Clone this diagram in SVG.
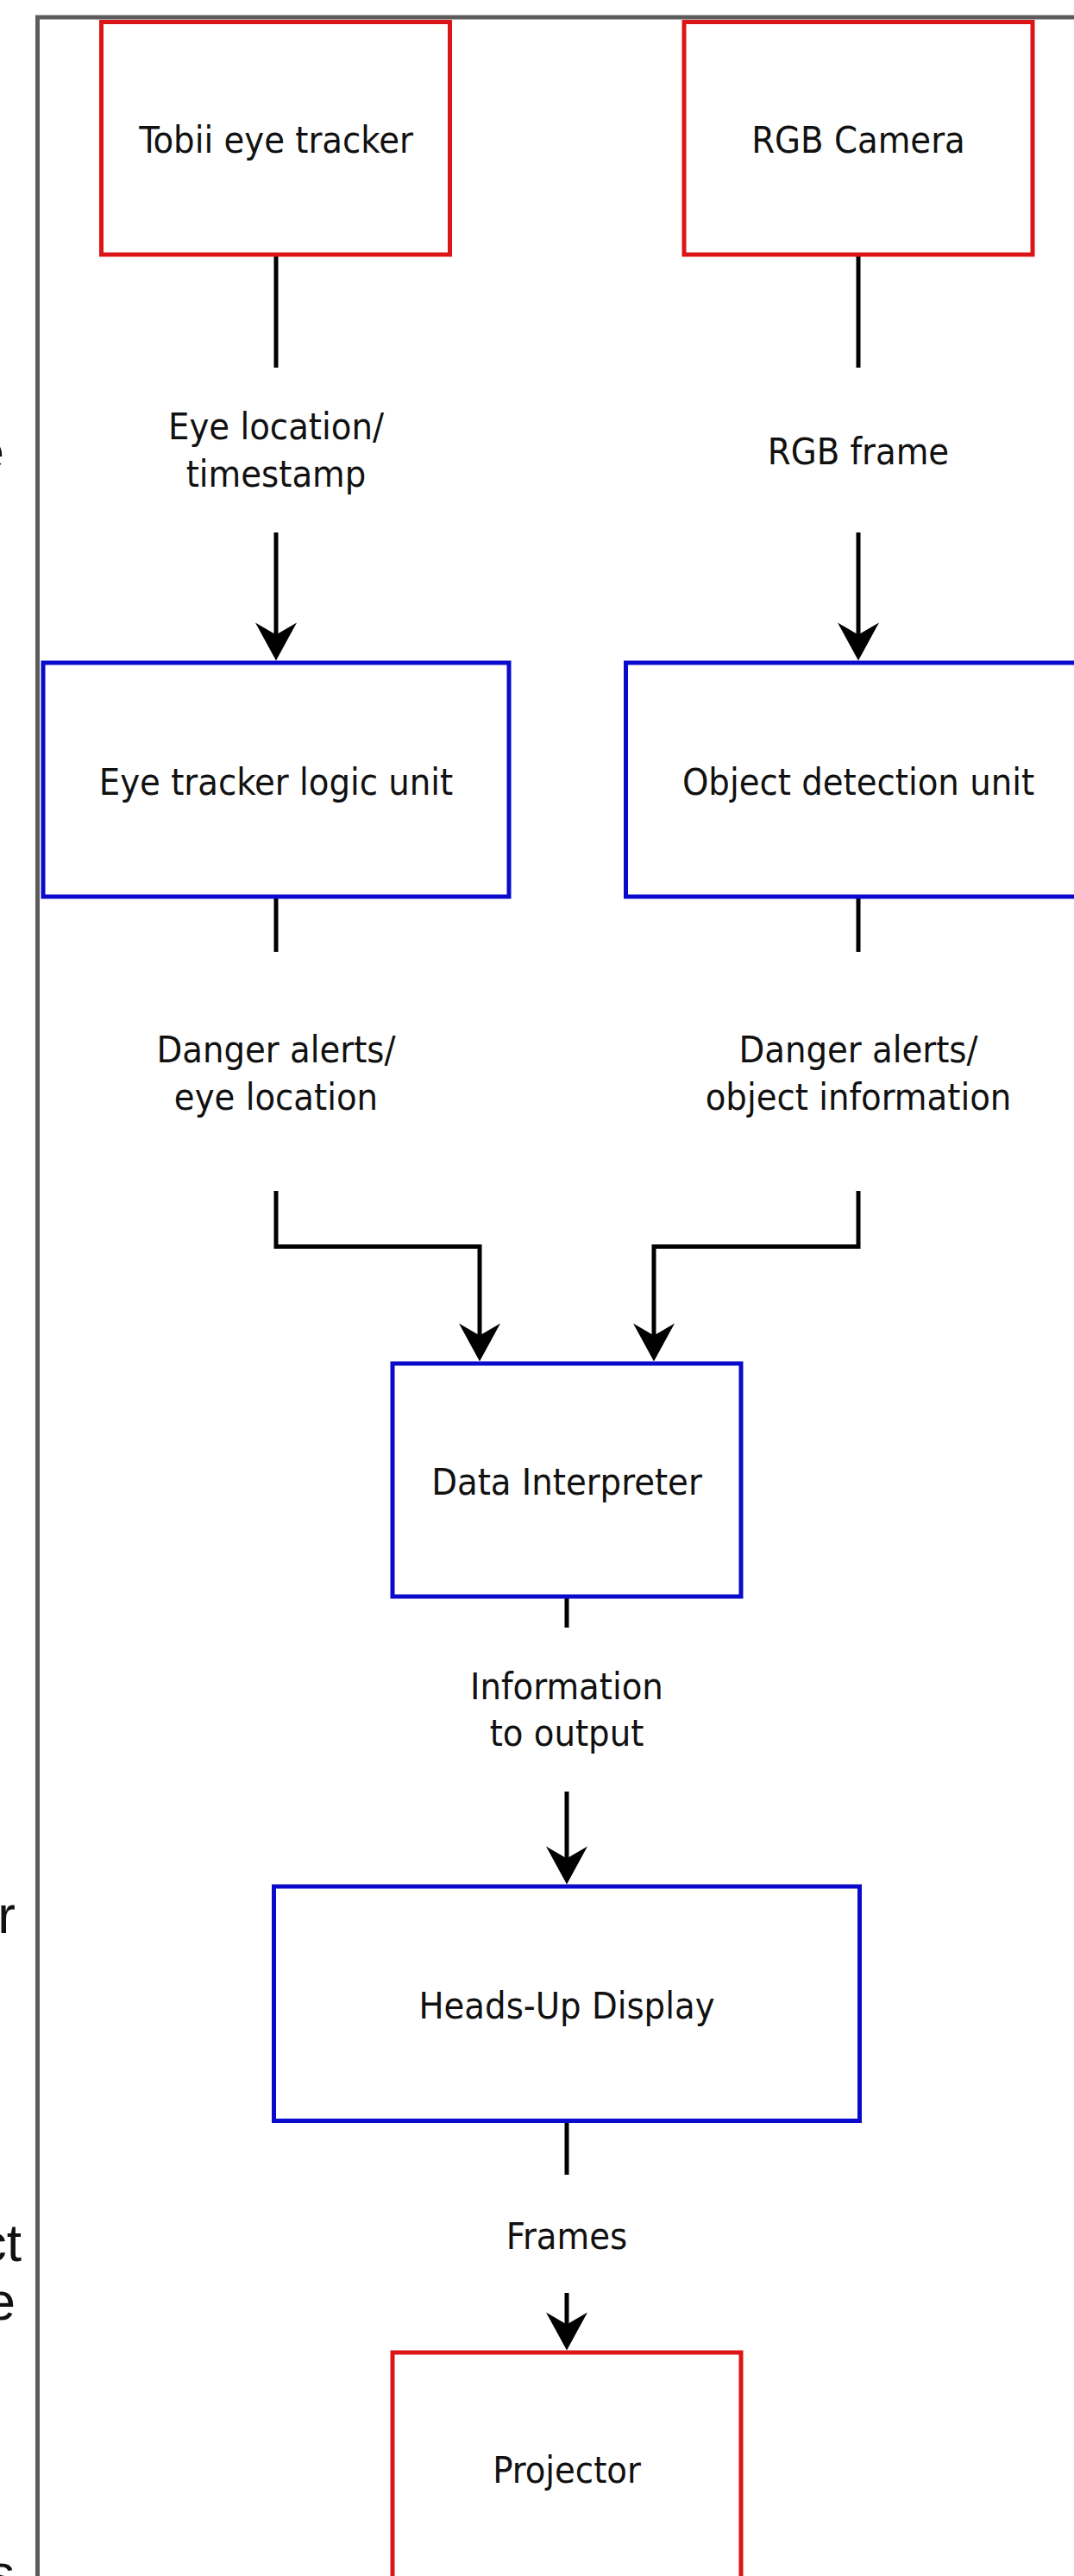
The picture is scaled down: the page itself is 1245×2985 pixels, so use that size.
<svg xmlns="http://www.w3.org/2000/svg" width="1245" height="2985" viewBox="0 0 1245 2985">
  <defs>
    <style>
      .frame { fill: none; stroke: #5c5c5c; stroke-width: 5; }
      .hw { fill: #ffffff; stroke: #dc1616; stroke-width: 5; }
      .sw { fill: #ffffff; stroke: #0a0acc; stroke-width: 5; }
      .lbl { font-family: "DejaVu Sans Condensed", "DejaVu Sans", sans-serif; font-stretch: condensed; font-size: 43px; fill: #111111; text-anchor: middle; }
      .wire { fill: none; stroke: #000000; stroke-width: 5; stroke-linejoin: miter; }
      .side { font-family: "Liberation Sans", Arial, sans-serif; font-size: 62px; fill: #111111; text-anchor: end; }
    </style>
    <!-- notched arrowhead; the wire stops 10px short of the tip -->
    <marker id="arrow" markerUnits="userSpaceOnUse" viewBox="-46 -25 48 50" markerWidth="48" markerHeight="50" refX="-10" refY="0" orient="auto" overflow="visible">
      <path d="M0,0 L-44,-24 L-30,0 L-44,24 Z" fill="#000000"/>
    </marker>
  </defs>

  <rect x="0" y="0" width="1245" height="2985" fill="#ffffff"/>

  <!-- clipped text running in from the neighbouring column -->
  <g id="margin-text">
    <text class="side" x="5" y="544">e</text>
    <text class="side" x="18" y="2240">r</text>
    <text class="side" x="25" y="2620">ct</text>
    <text class="side" x="18" y="2688">e</text>
    <text class="side" x="17" y="3003">s</text>
  </g>

  <!-- page frame: top and left rules -->
  <path class="frame" d="M43.5,2985 V20 H1245"/>

  <g id="connectors">
    <path class="wire" d="M320,295 V426"/>
    <path class="wire" d="M320,617 V755.5" marker-end="url(#arrow)"/>
    <path class="wire" d="M995,295 V426"/>
    <path class="wire" d="M995,617 V755.5" marker-end="url(#arrow)"/>

    <path class="wire" d="M320,1039 V1103"/>
    <path class="wire" d="M320,1380 V1444.5 H556 V1567.5" marker-end="url(#arrow)"/>
    <path class="wire" d="M995,1039 V1103"/>
    <path class="wire" d="M995,1380 V1444.5 H758 V1567.5" marker-end="url(#arrow)"/>

    <path class="wire" d="M657,1850 V1886"/>
    <path class="wire" d="M657,2076 V2173.5" marker-end="url(#arrow)"/>

    <path class="wire" d="M657,2457.5 V2520"/>
    <path class="wire" d="M657,2657 V2713.5" marker-end="url(#arrow)"/>

    <text class="lbl" x="320" y="509">Eye location/</text>
    <text class="lbl" x="320" y="564">timestamp</text>
    <text class="lbl" x="995" y="538">RGB frame</text>

    <text class="lbl" x="320" y="1231">Danger alerts/</text>
    <text class="lbl" x="320" y="1286">eye location</text>
    <text class="lbl" x="995" y="1231">Danger alerts/</text>
    <text class="lbl" x="995" y="1286">object information</text>

    <text class="lbl" x="657" y="1969">Information</text>
    <text class="lbl" x="657" y="2023">to output</text>

    <text class="lbl" x="657" y="2606">Frames</text>
  </g>

  <g id="tobii-eye-tracker">
    <rect class="hw" x="117.5" y="25.5" width="404" height="269.5"/>
    <text class="lbl" x="320" y="177">Tobii eye tracker</text>
  </g>

  <g id="rgb-camera">
    <rect class="hw" x="793" y="25.5" width="404" height="269.5"/>
    <text class="lbl" x="995" y="177">RGB Camera</text>
  </g>

  <g id="eye-tracker-logic-unit">
    <rect class="sw" x="50" y="768" width="540" height="271"/>
    <text class="lbl" x="320" y="921">Eye tracker logic unit</text>
  </g>

  <g id="object-detection-unit">
    <rect class="sw" x="725.5" y="768" width="540" height="271"/>
    <text class="lbl" x="995" y="921">Object detection unit</text>
  </g>

  <g id="data-interpreter">
    <rect class="sw" x="455" y="1580" width="404" height="270"/>
    <text class="lbl" x="657" y="1732">Data Interpreter</text>
  </g>

  <g id="heads-up-display">
    <rect class="sw" x="317.5" y="2186" width="679" height="271.5"/>
    <text class="lbl" x="657" y="2339">Heads-Up Display</text>
  </g>

  <g id="projector">
    <rect class="hw" x="455" y="2726" width="404" height="280"/>
    <text class="lbl" x="657" y="2877">Projector</text>
  </g>
</svg>
